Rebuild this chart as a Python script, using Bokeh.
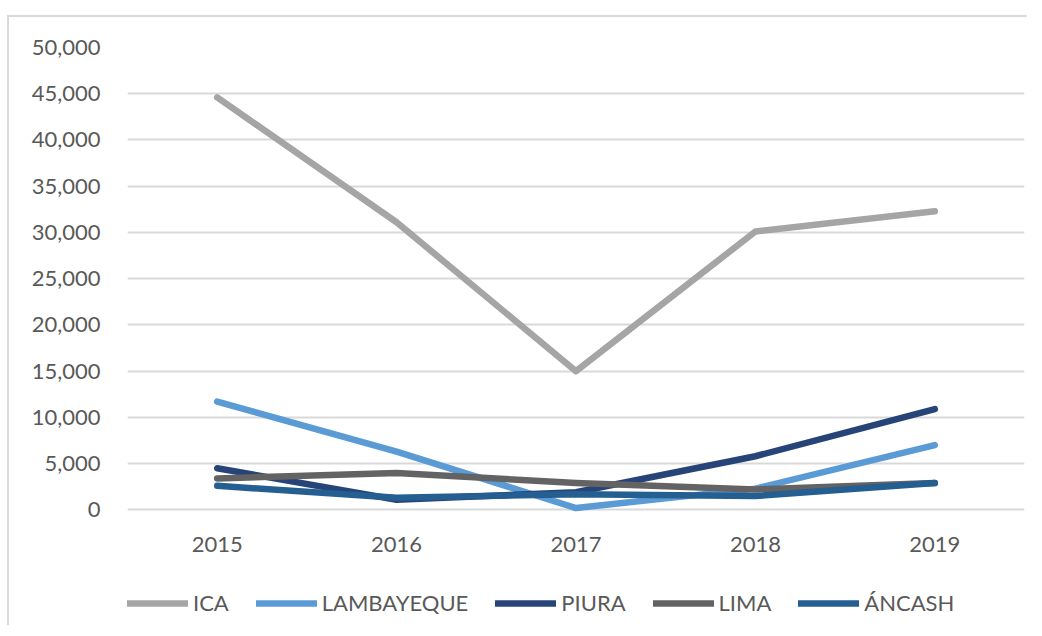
from bokeh.plotting import figure
from bokeh.models import FactorRange, Range1d, FixedTicker, NumeralTickFormatter, Legend, LegendItem
from bokeh.layouts import column
from bokeh.embed import file_html
from bokeh.resources import INLINE

years = ["2015", "2016", "2017", "2018", "2019"]
ica = [44600, 31100, 15000, 30100, 32300]
lambayeque = [11700, 6300, 200, 2300, 7000]
piura = [4500, 1100, 1900, 5800, 10900]
lima = [3400, 4000, 2900, 2200, 2900]
ancash = [2600, 1300, 1700, 1500, 2900]

series = [
    ("ICA", ica, "#a5a5a5"),
    ("LAMBAYEQUE", lambayeque, "#5b9bd5"),
    ("PIURA", piura, "#264478"),
    ("LIMA", lima, "#636363"),
    ("ÁNCASH", ancash, "#255e91"),
]
y_ticks = [0, 5000, 10000, 15000, 20000, 25000, 30000, 35000, 40000, 45000, 50000]

FONT = "Lato"
TXT = "#595959"

p = figure(x_range=FactorRange(*years), y_range=Range1d(-500, 50000),
           width=1018, height=553, output_backend="svg", toolbar_location=None,
           min_border_left=118, min_border_right=3, min_border_top=30, min_border_bottom=56)
p.outline_line_color = None
p.background_fill_color = "white"
p.border_fill_color = "white"

for name, vals, col in series:
    p.line(years, vals, line_color=col, line_width=6.5, line_cap="round", line_join="round")

p.xgrid.grid_line_color = None
p.ygrid.grid_line_color = "#d9d9d9"
p.ygrid.grid_line_width = 2
p.yaxis.ticker = FixedTicker(ticks=y_ticks)
p.yaxis.formatter = NumeralTickFormatter(format="0,0")

for ax in (p.xaxis, p.yaxis):
    ax.axis_line_color = None
    ax.major_tick_line_color = None
    ax.minor_tick_line_color = None
    ax.major_tick_out = 0
    ax.major_tick_in = 0
    ax.major_label_text_font = FONT
    ax.major_label_text_font_size = "22px"
    ax.major_label_text_color = TXT
p.yaxis.major_label_standoff = 27
p.xaxis.major_label_standoff = 22

# legend strip
pl = figure(x_range=Range1d(0, 1), y_range=Range1d(0, 1), width=1018, height=55,
            output_backend="svg", toolbar_location=None, x_axis_type=None, y_axis_type=None,
            min_border_left=0, min_border_right=0, min_border_top=0, min_border_bottom=0)
pl.outline_line_color = None
pl.xgrid.visible = False
pl.ygrid.visible = False
items = []
for name, vals, col in series:
    r = pl.line([5, 6], [5, 6], line_color=col, line_width=6.5, line_cap="round")
    items.append(LegendItem(label=name, renderers=[r]))
legend = Legend(items=items, orientation="horizontal", location=(0, 9),
                glyph_width=61, glyph_height=22, label_standoff=5, spacing=27,
                padding=0, margin=0, border_line_color=None, background_fill_alpha=0,
                label_text_font=FONT, label_text_font_size="22px", label_text_color=TXT)
pl.add_layout(legend, "center")

layout = column(p, pl, spacing=0, margin=(15, 0, 0, 7))
layout.styles = {"border-left": "2px solid #d9d9d9", "border-top": "2px solid #d9d9d9"}
open("out.html", "w").write(file_html(layout, INLINE))
